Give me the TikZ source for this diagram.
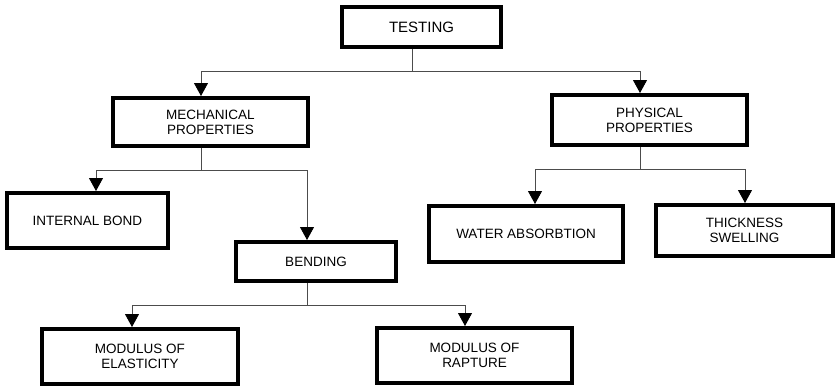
\documentclass[tikz,border=0pt]{standalone}
\usepackage{fontspec}
\setmainfont{Liberation Sans}
\usetikzlibrary{arrows.meta}

\begin{document}
\begin{tikzpicture}[x=1pt,y=1pt,
    box/.style={draw, line width=4pt, inner sep=0pt, align=center,
      font=\fontsize{13.5}{15}\selectfont},
    link/.style={line width=0.9pt, draw=black!70},
    >={Triangle[width=14pt,length=13pt,fill=black,color=black]}]
  \useasboundingbox (0,0) rectangle (835,-386);

  \node[box, minimum width=159, minimum height=40, font=\fontsize{15}{17}\selectfont] (test) at (421.5,-27) {TESTING};
  \node[box, minimum width=195, minimum height=48] (mech) at (210.5,-122) {MECHANICAL\\PROPERTIES};
  \node[box, minimum width=195, minimum height=50] (phys) at (649.5,-120) {PHYSICAL\\PROPERTIES};
  \node[box, minimum width=161, minimum height=55] (bond) at (87.5,-220.5) {INTERNAL BOND};
  \node[box, minimum width=160, minimum height=39] (bend) at (316,-261.5) {BENDING};
  \node[box, minimum width=194, minimum height=56] (water) at (526,-234) {WATER ABSORBTION};
  \node[box, minimum width=177, minimum height=51] (thick) at (744.5,-230.5) {THICKNESS\\SWELLING};
  \node[box, minimum width=196, minimum height=55] (elast) at (140,-356.5) {MODULUS OF\\ELASTICITY};
  \node[box, minimum width=195, minimum height=55] (rapt) at (474.5,-355.5) {MODULUS OF\\RAPTURE};

  % testing
  \coordinate (tm) at (412,-71);
  \coordinate (tl) at (201,-71);
  \coordinate (tr) at (640,-71);
  \draw[link] (tm |- test.south) -- (tm);
  \draw[link] (tl) -- (tr);
  \draw[link,->] (tl) -- (tl |- mech.north);
  \draw[link,->] (tr) -- (tr |- phys.north);

  % mechanical
  \coordinate (mm) at (201,-170);
  \coordinate (ml) at (96,-170);
  \coordinate (mr) at (307,-170);
  \draw[link] (mm |- mech.south) -- (mm);
  \draw[link] (ml) -- (mr);
  \draw[link,->] (ml) -- (ml |- bond.north);
  \draw[link,->] (mr) -- (mr |- bend.north);

  % bending
  \coordinate (bm) at (307,-305);
  \coordinate (bl) at (132,-305);
  \coordinate (br) at (465,-305);
  \draw[link] (bm |- bend.south) -- (bm);
  \draw[link] (bl) -- (br);
  \draw[link,->] (bl) -- (bl |- elast.north);
  \draw[link,->] (br) -- (br |- rapt.north);

  % physical
  \coordinate (pm) at (640,-169);
  \coordinate (pl) at (535,-169);
  \coordinate (pr) at (745,-169);
  \draw[link] (pm |- phys.south) -- (pm);
  \draw[link] (pl) -- (pr);
  \draw[link,->] (pl) -- (pl |- water.north);
  \draw[link,->] (pr) -- (pr |- thick.north);
\end{tikzpicture}
\end{document}
